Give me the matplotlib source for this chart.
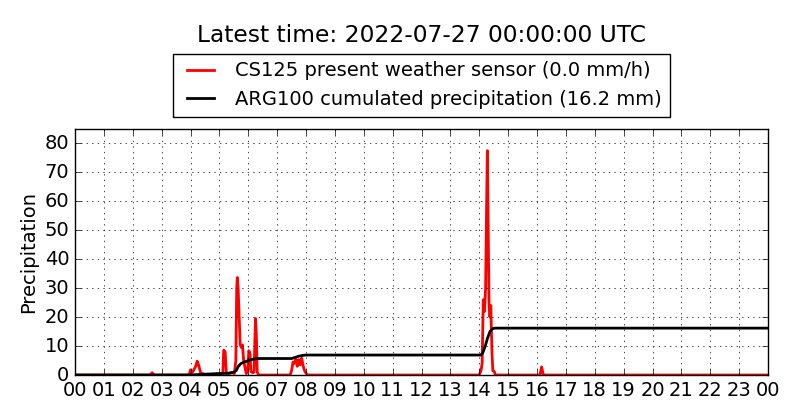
import matplotlib
matplotlib.use("Agg")
import matplotlib.pyplot as plt

plt.style.use("classic")
plt.rcParams["figure.facecolor"] = "white"
plt.rcParams["savefig.facecolor"] = "white"

# CS125 present weather sensor (mm/h), hours since 00 UTC
cs_hours = [0, 2.6, 2.67, 2.74,
            3.95, 4.0, 4.05, 4.1, 4.18, 4.23, 4.28, 4.35, 4.45, 4.55,
            4.85, 4.9, 4.95,
            5.12, 5.15, 5.2, 5.24, 5.3, 5.45, 5.52, 5.57, 5.6, 5.62, 5.65, 5.69,
            5.72, 5.76, 5.8, 5.84, 5.88, 5.93, 5.98, 6.02, 6.06, 6.09, 6.15,
            6.2, 6.25, 6.28, 6.31, 6.36,
            7.45, 7.5, 7.55, 7.6, 7.65, 7.7, 7.75, 7.8, 7.85, 7.9, 7.95, 8.02, 8.08,
            14.0, 14.06, 14.1, 14.14, 14.18, 14.22, 14.25, 14.28, 14.31, 14.34,
            14.37, 14.4, 14.44, 14.47, 14.52, 14.56,
            16.1, 16.16, 16.22,
            24]
cs_rate = [0, 0, 0.8, 0,
           0, 1.8, 0.8, 1.5, 3.0, 4.8, 3.5, 0.8, 0.3, 0,
           0, 0.5, 0,
           0.5, 8.6, 8.0, 0.8, 0.5, 0.8, 0.5, 5.0, 30, 33.7, 30, 19,
           10.5, 9.5, 10.4, 5, 3, 0.5, 1.5, 8.4, 7.5, 1.2, 0.8,
           1.0, 19.5, 14, 1, 0,
           0, 1.5, 4.5, 4, 5.5, 3.0, 5.3, 3.5, 5.8, 3.2, 1.5, 0.3, 0,
           0, 1.5, 4, 26, 22, 30, 55, 77.5, 50, 24,
           20, 24, 8, 1.5, 1.2, 0,
           0, 2.8, 0,
           0]

# ARG100 cumulated precipitation (mm)
arg_hours = [0, 4.0, 4.5, 5.0, 5.3, 5.5, 5.58, 5.65, 5.75, 5.9, 6.1, 6.3,
             7.5, 7.6, 7.75, 7.9, 8.0, 14.05, 14.12, 14.2, 14.28, 14.37,
             14.46, 14.55, 24]
arg_cum = [0, 0, 0.3, 0.5, 0.6, 1.0, 1.5, 2.9, 4.0, 4.6, 5.3, 5.7,
           5.7, 6.0, 6.5, 6.8, 6.9, 6.9, 7.6, 9.8, 12.5, 15.0,
           16.0, 16.2, 16.2]

hour_labels = ["%02d" % h for h in range(24)] + ["00"]

fig = plt.figure(figsize=(8, 4.2), dpi=100)
ax = fig.add_axes([0.09375, 0.1071, 0.86625, 0.5858])

ax.plot(cs_hours, cs_rate, color="red", lw=2,
        label="CS125 present weather sensor (0.0 mm/h)")
ax.plot(arg_hours, arg_cum, color="black", lw=2,
        label="ARG100 cumulated precipitation (16.2 mm)")

ax.set_xlim(0, 24)
ax.set_ylim(0, 85)
ax.set_xticks(range(25))
ax.set_xticklabels(hour_labels)
ax.set_yticks(range(0, 81, 10))
ax.tick_params(labelsize=14)
ax.grid(True, color="black", linestyle=":")
ax.set_ylabel("Precipitation", fontsize=14)

ax.legend(loc="lower center", bbox_to_anchor=(0.5, 1.049), borderaxespad=0,
          fontsize=14, handlelength=2.0, handletextpad=0.8,
          borderpad=0.4, labelspacing=0.5)
ax.text(0.5, 1.378, "Latest time: 2022-07-27 00:00:00 UTC", transform=ax.transAxes,
        ha="center", va="center", fontsize=16.8)

fig.savefig("out.png", dpi=100)
